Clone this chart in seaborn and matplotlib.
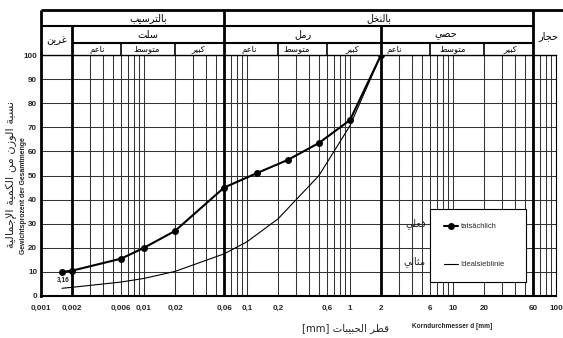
import numpy as np
import pandas as pd
import matplotlib
matplotlib.use("Agg")
import matplotlib.pyplot as plt
import matplotlib.font_manager as fm
import seaborn as sns

# ---------------- data ----------------
actual_d = [0.0016, 0.002, 0.006, 0.01, 0.02, 0.06, 0.125, 0.25, 0.5, 1, 2]
actual_p = [10, 10.5, 15.5, 20, 27, 45, 51, 56.5, 63.5, 73, 100]
ideal_d = [0.0016, 0.002, 0.006, 0.01, 0.02, 0.06, 0.1, 0.2, 0.5, 1, 2]
ideal_p = [3.2, 3.6, 5.8, 7.3, 10.2, 17.5, 22.5, 32, 50, 70.7, 100]

x_ticks = [0.001, 0.002, 0.006, 0.01, 0.02, 0.06, 0.1, 0.2, 0.6, 1, 2, 6, 10, 20, 60, 100]
x_tick_labels = ["0,001", "0,002", "0,006", "0,01", "0,02", "0,06", "0,1", "0,2", "0,6",
                 "1", "2", "6", "10", "20", "60", "100"]
y_ticks = [0, 10, 20, 30, 40, 50, 60, 70, 80, 90, 100]

main_bounds = [0.002, 0.06, 2, 60]
sub_bounds = [0.006, 0.02, 0.2, 0.6, 6, 20]

top_groups = ["بالترسيب", "بالنخل"]
mid_groups = ["سلت", "رمل", "حصي"]
clay_label = "غرين"
stone_label = "حجار"
sub_groups = ["ناعم", "متوسط", "كبير"]

series_actual = "tatsächlich"
series_ideal = "Idealsieblinie"
series_actual_ar = "فعلي"
series_ideal_ar = "مثالي"
ylabel_ar = "نسبة الوزن من الكمية الإجمالية"
ylabel_de = "Gewichtsprozent der Gesamtmenge"
xlabel_ar = "قطر الحبيبات"
xlabel_unit = "[mm]"
xlabel_de = "Korndurchmesser d [mm]"
note_label = "3,16"

# ---------------- Arabic shaping (presentation forms, visual order) ----------------
FORMS = {
    '\u0627': ('\uFE8D', '\uFE8E', None, None),
    '\u0625': ('\uFE87', '\uFE88', None, None),
    '\u0628': ('\uFE8F', '\uFE90', '\uFE91', '\uFE92'),
    '\u0629': ('\uFE93', '\uFE94', None, None),
    '\u062A': ('\uFE95', '\uFE96', '\uFE97', '\uFE98'),
    '\u062B': ('\uFE99', '\uFE9A', '\uFE9B', '\uFE9C'),
    '\u062C': ('\uFE9D', '\uFE9E', '\uFE9F', '\uFEA0'),
    '\u062D': ('\uFEA1', '\uFEA2', '\uFEA3', '\uFEA4'),
    '\u062E': ('\uFEA5', '\uFEA6', '\uFEA7', '\uFEA8'),
    '\u0631': ('\uFEAD', '\uFEAE', None, None),
    '\u0632': ('\uFEAF', '\uFEB0', None, None),
    '\u0633': ('\uFEB1', '\uFEB2', '\uFEB3', '\uFEB4'),
    '\u0635': ('\uFEB9', '\uFEBA', '\uFEBB', '\uFEBC'),
    '\u0637': ('\uFEC1', '\uFEC2', '\uFEC3', '\uFEC4'),
    '\u0639': ('\uFEC9', '\uFECA', '\uFECB', '\uFECC'),
    '\u063A': ('\uFECD', '\uFECE', '\uFECF', '\uFED0'),
    '\u0641': ('\uFED1', '\uFED2', '\uFED3', '\uFED4'),
    '\u0642': ('\uFED5', '\uFED6', '\uFED7', '\uFED8'),
    '\u0643': ('\uFED9', '\uFEDA', '\uFEDB', '\uFEDC'),
    '\u0644': ('\uFEDD', '\uFEDE', '\uFEDF', '\uFEE0'),
    '\u0645': ('\uFEE1', '\uFEE2', '\uFEE3', '\uFEE4'),
    '\u0646': ('\uFEE5', '\uFEE6', '\uFEE7', '\uFEE8'),
    '\u0648': ('\uFEED', '\uFEEE', None, None),
    '\u064A': ('\uFEF1', '\uFEF2', '\uFEF3', '\uFEF4'),
}
LAM_ALEF = {'\u0627': ('\uFEFB', '\uFEFC'), '\u0625': ('\uFEF9', '\uFEFA'),
            '\u0623': ('\uFEF7', '\uFEF8'), '\u0622': ('\uFEF5', '\uFEF6')}


def rtl(text):
    chars = []
    i = 0
    while i < len(text):
        c = text[i]
        if c == '\u0644' and i + 1 < len(text) and text[i + 1] in LAM_ALEF:
            chars.append(('LA', text[i + 1]))
            i += 2
        else:
            chars.append(c)
            i += 1

    def joins_next(c):
        if isinstance(c, tuple):
            return False
        f = FORMS.get(c)
        return f is not None and f[2] is not None

    def joins_prev(c):
        return isinstance(c, tuple) or c in FORMS

    out = []
    for k, c in enumerate(chars):
        prev = chars[k - 1] if k > 0 else None
        nxt = chars[k + 1] if k + 1 < len(chars) else None
        jp = prev is not None and joins_next(prev) and joins_prev(c)
        jn = nxt is not None and joins_next(c) and joins_prev(nxt)
        if isinstance(c, tuple):
            iso, fin = LAM_ALEF[c[1]]
            out.append(fin if jp else iso)
            continue
        f = FORMS.get(c)
        if f is None:
            out.append(c)
        elif jp and jn:
            out.append(f[3])
        elif jp:
            out.append(f[1])
        elif jn:
            out.append(f[2])
        else:
            out.append(f[0])
    return ''.join(out)[::-1]


# ---------------- style ----------------
sns.set_theme(style="white")
plt.rcParams['font.family'] = ['DejaVu Sans']
_names = {f.name for f in fm.fontManager.ttflist}
if 'Liberation Sans Narrow' in _names:
    NARROW = ['Liberation Sans Narrow', 'DejaVu Sans']
    NS = 1.0
else:
    NARROW = ['Liberation Sans', 'DejaVu Sans']
    NS = 0.86
AR = ['DejaVu Sans']

W, H = 563, 338
fig = plt.figure(figsize=(W / 100, H / 100), dpi=100)
fig.patch.set_facecolor('white')

xl, xr, yb, yt = 41, 556, 296, 55
ax = fig.add_axes([xl / W, (H - yb) / H, (xr - xl) / W, (yb - yt) / H])
hax = fig.add_axes([xl / W, (H - yt) / H, (xr - xl) / W, 45 / H])

df_a = pd.DataFrame({"d": actual_d, "p": actual_p})
df_i = pd.DataFrame({"d": ideal_d, "p": ideal_p})

sns.lineplot(data=df_a, x="d", y="p", ax=ax, color="black", lw=1.5, marker="o",
             markersize=5, markeredgewidth=0, sort=False, estimator=None,
             label=series_actual, zorder=5)
sns.lineplot(data=df_i, x="d", y="p", ax=ax, color="black", lw=0.8,
             sort=False, estimator=None, label=series_ideal, zorder=4)

ax.set_xscale("log")
ax.set_xlim(0.001, 100)
ax.set_ylim(0, 100)

# grid
grid_x = [m * 10.0 ** e for e in range(-3, 2) for m in range(1, 10)] + [100]
for gx in grid_x:
    ax.axvline(gx, color="#333333", lw=0.75, zorder=1)
for gy in y_ticks[1:]:
    ax.axhline(gy, color="#333333", lw=0.75, zorder=1)
for b in main_bounds:
    ax.axvline(b, color="black", lw=2.0, zorder=2)

ax.set_xticks(x_ticks)
ax.set_xticklabels(x_tick_labels)
ax.xaxis.set_minor_locator(matplotlib.ticker.NullLocator())
ax.set_yticks(y_ticks)
ax.set_yticklabels([str(v) for v in y_ticks])
ax.tick_params(axis="both", which="major", direction="out", length=2, width=0.8,
               color="black")
ax.tick_params(axis="y", pad=0.8)
ax.tick_params(axis="x", pad=4.2)
for lab in ax.get_xticklabels() + ax.get_yticklabels():
    lab.set_fontfamily(NARROW)
    lab.set_fontsize(6.7 * NS)
    lab.set_fontweight("bold")

for s in ["left", "bottom", "top", "right"]:
    ax.spines[s].set_visible(True)
    ax.spines[s].set_color("black")
ax.spines["left"].set_linewidth(2.0)
ax.spines["bottom"].set_linewidth(1.5)
ax.spines["top"].set_linewidth(1.0)
ax.spines["right"].set_linewidth(0.8)
ax.set_xlabel("")
ax.set_ylabel("")

# legend
lfs = 6.3 * NS
leg = ax.legend(loc="lower left", bbox_to_anchor=(0.7485, 0.043, 0.2, 0.31), mode="expand",
                frameon=True, fancybox=False, shadow=False, borderpad=1.8 * 0.86 / NS,
                labelspacing=4.1 * 0.86 / NS, handlelength=1.9, handletextpad=0.3,
                prop={'family': NARROW, 'size': lfs})
leg.get_frame().set_edgecolor("black")
leg.get_frame().set_linewidth(0.8)
leg.get_frame().set_facecolor("white")
leg.get_frame().set_alpha(1)
leg.set_zorder(10)

ax.text(0.7475, 0.299, rtl(series_actual_ar), transform=ax.transAxes, ha="right",
        va="center", fontsize=7, family=AR, zorder=11)
ax.text(0.7475, 0.141, rtl(series_ideal_ar), transform=ax.transAxes, ha="right",
        va="center", fontsize=7, family=AR, zorder=11)

ax.text(0.00165, 6.5, note_label, ha="center", va="center", fontsize=5.5 * NS,
        family=NARROW, fontweight="bold")

# ---------------- header ----------------
hax.set_xscale("log")
hax.set_xlim(0.001, 100)
hax.set_ylim(0, 45)
hax.axis("off")
hk = dict(color="black", clip_on=False, solid_capstyle="butt")
hax.plot([0.001, 117], [45, 45], lw=2.0, **hk)
hax.plot([0.001, 60], [29, 29], lw=1.5, **hk)
hax.plot([0.002, 60], [12, 12], lw=1.5, **hk)
hax.plot([0.001, 0.001], [0, 45], lw=2.0, **hk)
hax.plot([0.002, 0.002], [0, 29], lw=2.0, **hk)
hax.plot([0.06, 0.06], [0, 45], lw=2.0, **hk)
hax.plot([2, 2], [0, 29], lw=2.0, **hk)
hax.plot([60, 60], [0, 45], lw=2.0, **hk)
for b in sub_bounds:
    hax.plot([b, b], [0, 12], lw=1.2, **hk)

ht = dict(ha="center", va="center", family=AR, color="black", clip_on=False)
hax.text(np.sqrt(0.002 * 0.06), 37, rtl(top_groups[0]), fontsize=7, **ht)
hax.text(np.sqrt(0.06 * 60), 37, rtl(top_groups[1]), fontsize=7, **ht)
mid_pos = [np.sqrt(0.002 * 0.06), np.sqrt(0.06 * 2), 8.5]
for txt, xp in zip(mid_groups, mid_pos):
    hax.text(xp, 20.5, rtl(txt), fontsize=7, **ht)
hax.text(np.sqrt(0.001 * 0.002), 15, rtl(clay_label), fontsize=7, **ht)
hax.text(85, 19, rtl(stone_label), fontsize=7, **ht)
sub_pos = [0.0035, 0.0105, 0.034, 0.105, 0.30, 1.05, 2.7, 10.0, 36.0]
for i, xp in enumerate(sub_pos):
    hax.text(xp, 6, rtl(sub_groups[i % 3]), fontsize=6, **ht)

# ---------------- axis titles ----------------
fig.text(11 / W, 1 - 175 / H, rtl(ylabel_ar), rotation=90, ha="center", va="center",
         fontsize=8.2, family=AR)
fig.text(23.5 / W, 1 - 196 / H, ylabel_de, rotation=90, ha="center", va="center",
         fontsize=5.8 * NS, family=NARROW, fontweight="bold")
fig.text(345 / W, 1 - 328 / H, xlabel_unit + " " + rtl(xlabel_ar), ha="center",
         va="center", fontsize=7.3, family=AR)
fig.text(452 / W, 1 - 326 / H, xlabel_de, ha="center", va="center", fontsize=5.5 * NS,
         family=NARROW, fontweight="bold")

fig.savefig("out.png", dpi=100, facecolor="white")
